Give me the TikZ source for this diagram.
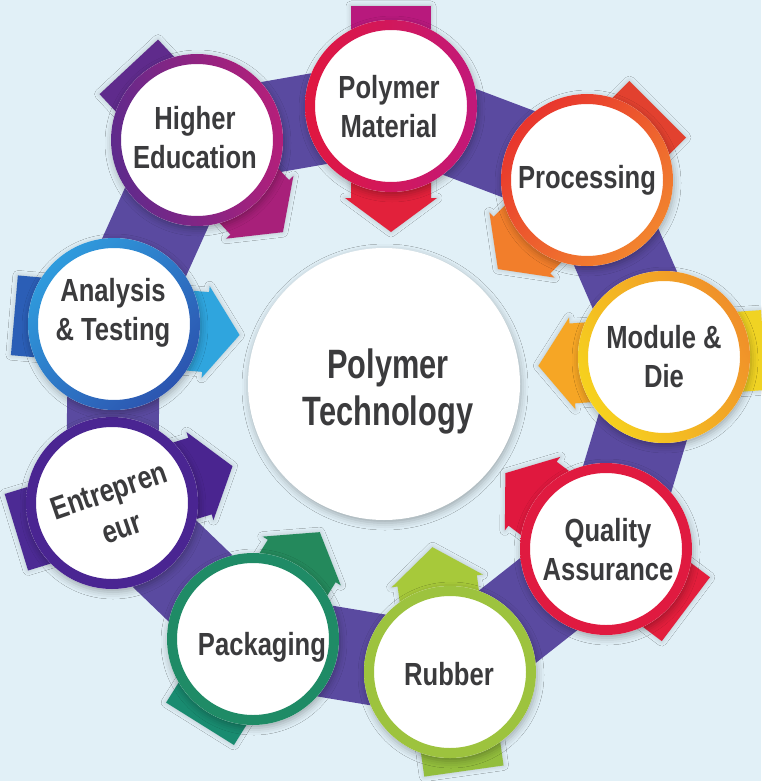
\documentclass[tikz,border=0pt]{standalone}
\usepackage{fontspec}
\setmainfont{Liberation Sans}
\newfontfamily\lblfont[FakeStretch=0.80]{Liberation Sans}
\newfontfamily\corefont[FakeStretch=0.75]{Liberation Sans}
\usetikzlibrary{shadows.blur}
\definecolor{bg}{HTML}{E1F0F7}
\definecolor{bandc}{HTML}{5A4AA0}
\definecolor{txt}{HTML}{3B3B3D}
% arrows
\definecolor{pmT}{HTML}{B8197D}\definecolor{pmH}{HTML}{E2213B}
\definecolor{prT}{HTML}{E2412F}\definecolor{prH}{HTML}{F27E2B}
\definecolor{mdT}{HTML}{F0D323}\definecolor{mdH}{HTML}{F6A625}
\definecolor{qaT}{HTML}{E31E3C}\definecolor{qaH}{HTML}{E0183E}
\definecolor{ruT}{HTML}{93BE3D}\definecolor{ruH}{HTML}{A7C93A}
\definecolor{pkT}{HTML}{198B70}\definecolor{pkH}{HTML}{24895C}
\definecolor{enT}{HTML}{4C2A94}\definecolor{enH}{HTML}{4A2590}
\definecolor{atT}{HTML}{2B5EB6}\definecolor{atH}{HTML}{2FA5DE}
\definecolor{heT}{HTML}{5F2B8C}\definecolor{heH}{HTML}{A8207A}
% rings
\definecolor{pmA}{HTML}{E0173F}\definecolor{pmB}{HTML}{C2187A}
\definecolor{prA}{HTML}{E8352D}\definecolor{prB}{HTML}{F2842E}
\definecolor{mdA}{HTML}{F6D21E}\definecolor{mdB}{HTML}{F08F2A}
\definecolor{qaA}{HTML}{E01A40}
\definecolor{ruA}{HTML}{9DC33E}
\definecolor{pkA}{HTML}{1F8B66}
\definecolor{enA}{HTML}{4A2592}
\definecolor{atA}{HTML}{2F9BDD}\definecolor{atB}{HTML}{2C55B0}
\definecolor{heA}{HTML}{5E2A8C}\definecolor{heB}{HTML}{B51F7A}
\tikzset{
  circshadow/.style={blur shadow={shadow xshift=1pt, shadow yshift=-3pt, shadow blur radius=7pt, shadow opacity=30}},
  arrshadow/.style={blur shadow={shadow xshift=0pt, shadow yshift=0pt, shadow blur radius=5pt, shadow opacity=20}},
  lbl/.style={font=\lblfont\bfseries\fontsize{32}{39}\selectfont, text=txt, align=center, inner sep=0pt},
  corelbl/.style={font=\corefont\bfseries\fontsize{41}{47}\selectfont, text=txt, align=center, inner sep=0pt},
}
% #1 name, #2 x, #3 y, #4 angle, #5 tail, #6 head, #7 ringA, #8 ringB, #9 shading angle
\newcommand\petal[9]{%
  \begin{scope}[shift={(#2,#3)}, rotate=#4]
    \fill[#5, arrshadow] (-100,-40) -- (2,-40) -- (2,40) -- (-100,40) -- cycle;
    \fill[#6, arrshadow] (0,-40) -- (92,-40) -- (92,-46) -- (126,0) -- (92,46) -- (92,40) -- (0,40) -- cycle;
  \end{scope}
  \coordinate (#1) at (#2,#3);
  \fill[white, circshadow] (#1) circle (86pt);
  \shade[left color=#7, right color=#8, shading angle=#9, even odd rule] (#1) circle (86pt) (#1) circle (76pt);
}
\begin{document}
\begin{tikzpicture}[x=1pt,y=-1pt]
\fill[bg] (0,0) rectangle (761,781);
\useasboundingbox (0,0) rectangle (761,781);
% ring band
\coordinate (bPM) at (391,106);
\coordinate (bPR) at (587,180);
\coordinate (bMD) at (664,357);
\coordinate (bQA) at (606,549);
\coordinate (bRU) at (450,672);
\coordinate (bPK) at (253,639);
\coordinate (bEN) at (112,503);
\coordinate (bAT) at (114,324);
\coordinate (bHE) at (197,140);
\draw[bandc, line width=92pt, line join=round] (bPM) -- (bPR) -- (bMD) -- (bQA) -- (bRU) -- (bPK) -- (bEN) -- (bAT) -- (bHE) -- cycle;
% centre
\node[circle, fill=white, minimum size=272pt, inner sep=0pt, circshadow] (core) at (384,384) {};
\node[corelbl] (coreL) at (388,391) {Polymer\\Technology};
% petals
\petal{pm}{391}{106}{-90}{pmT}{pmH}{pmA}{pmB}{90}
\petal{pr}{587}{180}{-135}{prT}{prH}{prA}{prB}{45}
\petal{md}{664}{357}{184}{mdT}{mdH}{mdA}{mdB}{120}
\petal{qa}{606}{549}{143}{qaT}{qaH}{qaA}{qaA}{90}
\petal{ru}{450}{672}{98}{ruT}{ruH}{ruA}{ruA}{90}
\petal{pk}{253}{639}{58}{pkT}{pkH}{pkA}{pkA}{90}
\petal{en}{112}{503}{17}{enT}{enH}{enA}{enA}{90}
\petal{at}{114}{324}{-5}{atT}{atH}{atA}{atB}{45}
\petal{he}{197}{140}{-47}{heT}{heH}{heA}{heB}{100}
% labels
\node[lbl] (pmL) at (389,107) {Polymer\\Material};
\node[lbl, anchor=base] (prL) at (587,188) {Processing};
\node[lbl] (mdL) at (664,357) {Module \&\\Die};
\node[lbl] (qaL) at (608,550) {Quality\\Assurance};
\node[lbl, anchor=base] (ruL) at (449,685) {Rubber};
\node[lbl, anchor=base] (pkL) at (262,655) {Packaging};
\node[lbl, rotate=19] (enL) at (115,509) {Entrepren\\eur};
\node[lbl] (atL) at (113,313) {Analysis\\\& Testing};
\node[lbl] (heL) at (195,138) {Higher\\Education};
\end{tikzpicture}
\end{document}
